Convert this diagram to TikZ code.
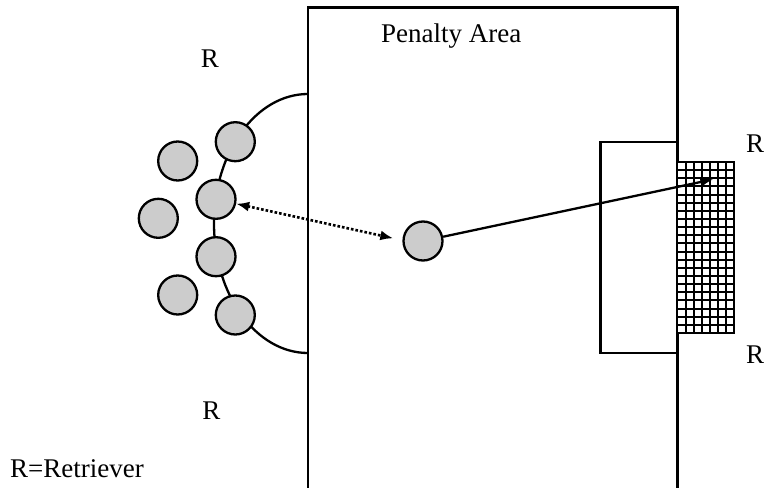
\documentclass[tikz,border=0pt]{standalone}
\usepackage{fontspec}
\setmainfont{Liberation Serif}
\usetikzlibrary{arrows.meta}
\begin{document}
\begin{tikzpicture}[x=1pt,y=-1pt,
  line join=miter,
  fieldline/.style={line width=2.3pt, black},
  player/.style={circle, draw=black, line width=2.3pt, fill=black!20, minimum size=39pt, inner sep=0pt},
  lbl/.style={inner sep=0pt, font=\fontsize{27}{31}\selectfont},
  netline/.style={line width=2pt, black},
  shot/.style={line width=2.3pt, -{Latex[length=13pt,width=10pt]}},
  pass/.style={line width=2.6pt, dotted, {Latex[length=13pt,width=10pt]}-{Latex[length=13pt,width=10pt]}}]
\useasboundingbox (0,0) rectangle (765,487);
\begin{scope}
\clip (0,0) rectangle (765,487);
% penalty area (runs off the bottom)
\draw[fieldline] (308,495) -- (308,7.5) -- (677.5,7.5) -- (677.5,495);
% goal area
\draw[fieldline] (677.5,142) -- (600.5,142) -- (600.5,353) -- (677.5,353);
% net
\fill[white] (677.5,162) rectangle (734,333);
\foreach \i in {1,...,6} {
  \draw[netline] ({677.5+\i*8.07},162) -- ({677.5+\i*8.07},333);
}
\foreach \j in {1,...,20} {
  \draw[netline] (677.5,{162+\j*8.14}) -- (734,{162+\j*8.14});
}
\draw[line width=2.8pt] (677.5,162) -- (734,162) -- (734,333) -- (677.5,333);
% penalty arc
\draw[fieldline] (308,94) arc[start angle=-90, end angle=-270, x radius=94, y radius=129.5];
\end{scope}
% players on the arc
\node[player] (p1) at (235.3,141.7) {};
\node[player] (p2) at (216,199.3) {};
\node[player] (p3) at (216,256.7) {};
\node[player] (p4) at (235.3,315) {};
% outer players
\node[player] (o1) at (177.7,161) {};
\node[player] (o2) at (158.3,218.3) {};
\node[player] (o3) at (177.7,295) {};
% kicker
\node[player] (k) at (423,241) {};
% target in the net
\coordinate (t) at (713.3,179.3);
\coordinate (d) at (393.3,238.3);
\draw[pass] (p2) -- (d);
\draw[shot] (k) -- (t);
% labels
\node[lbl, anchor=base west] (pa) at (381,43) {Penalty Area};
\node[lbl] (r1) at (210,59) {R};
\node[lbl] (r2) at (211.5,411) {R};
\node[lbl] (r3) at (755,144) {R};
\node[lbl] (r4) at (755,355) {R};
\node[lbl, anchor=base west] (key) at (10,477) {R=Retriever};
\end{tikzpicture}
\end{document}
